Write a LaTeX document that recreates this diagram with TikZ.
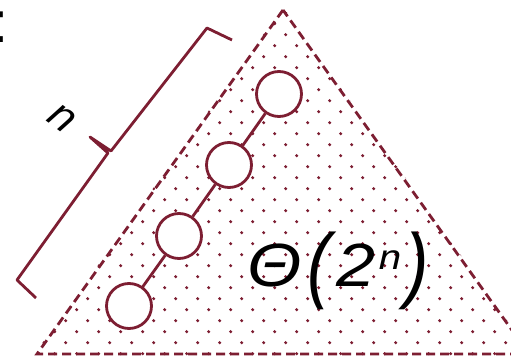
\documentclass[tikz,border=0pt]{standalone}
\usepackage{fontspec}
\setmainfont{Liberation Sans}
\definecolor{wine}{RGB}{125,30,50}
\newcommand{\tallparen}[1]{\raisebox{-2.7pt}{\scalebox{1}[1.37]{#1}}}

\begin{document}
\begin{tikzpicture}[x=0.5pt, y=-0.5pt,
  line/.style = {color=wine, line width=1.4pt},
  bead/.style = {circle, draw=wine, line width=1.4pt, fill=white, minimum size=22.5pt, inner sep=0pt}]
\useasboundingbox (0,0) rectangle (511,358);
\coordinate (apex) at (283,10);
\coordinate (left) at (37,354);
\coordinate (right) at (529,354);
% dotted inside of the triangle
\begin{scope}
\clip (283,7) -- (33,356) -- (533,356) -- cycle;
\foreach \r in {0,...,31} {
  \pgfmathsetmacro{\yy}{12.7+11*\r}
  \pgfmathsetmacro{\xo}{mod(\r,2)*11-0.3}
  \foreach \k in {0,...,23}
    \fill[wine] (\xo+22*\k, \yy) circle (0.85pt);
}
\end{scope}
\draw [line, dash pattern=on 4.5pt off 2.5pt] (apex) -- (left) -- (right) -- cycle;
% chain of circles
\node[bead] (b1) at (129,306) {};
\node[bead] (b2) at (179,236) {};
\node[bead] (b3) at (229,165) {};
\node[bead] (b4) at (279,94) {};
\draw [line] (b1) -- (b2) (b2) -- (b3) (b3) -- (b4);
% brace
\draw [line, line join=round] (36,298) -- (17,280) -- (108,153) -- (90,137) -- (111,151) -- (207,28) -- (232,40);
\node[rotate=-37, font=\itshape\fontsize{21.5}{21.5}\selectfont] (nlab) at (62,118) {n};
\node[anchor=base west, inner sep=0pt, font=\itshape\fontsize{30.5}{30.5}\selectfont] (cost) at (247,287)
  {\scalebox{1.15}[1]{Θ\kern2.5pt\tallparen{(}\kern2.3pt2\kern1.5pt\raisebox{8.5pt}{\fontsize{17.5}{17.5}\selectfont n}\kern2pt\tallparen{)}}};
\node[anchor=base west, inner sep=0pt, font=\fontsize{29}{29}\selectfont] (colon) at (-7.4,43) {:};
\end{tikzpicture}
\end{document}
